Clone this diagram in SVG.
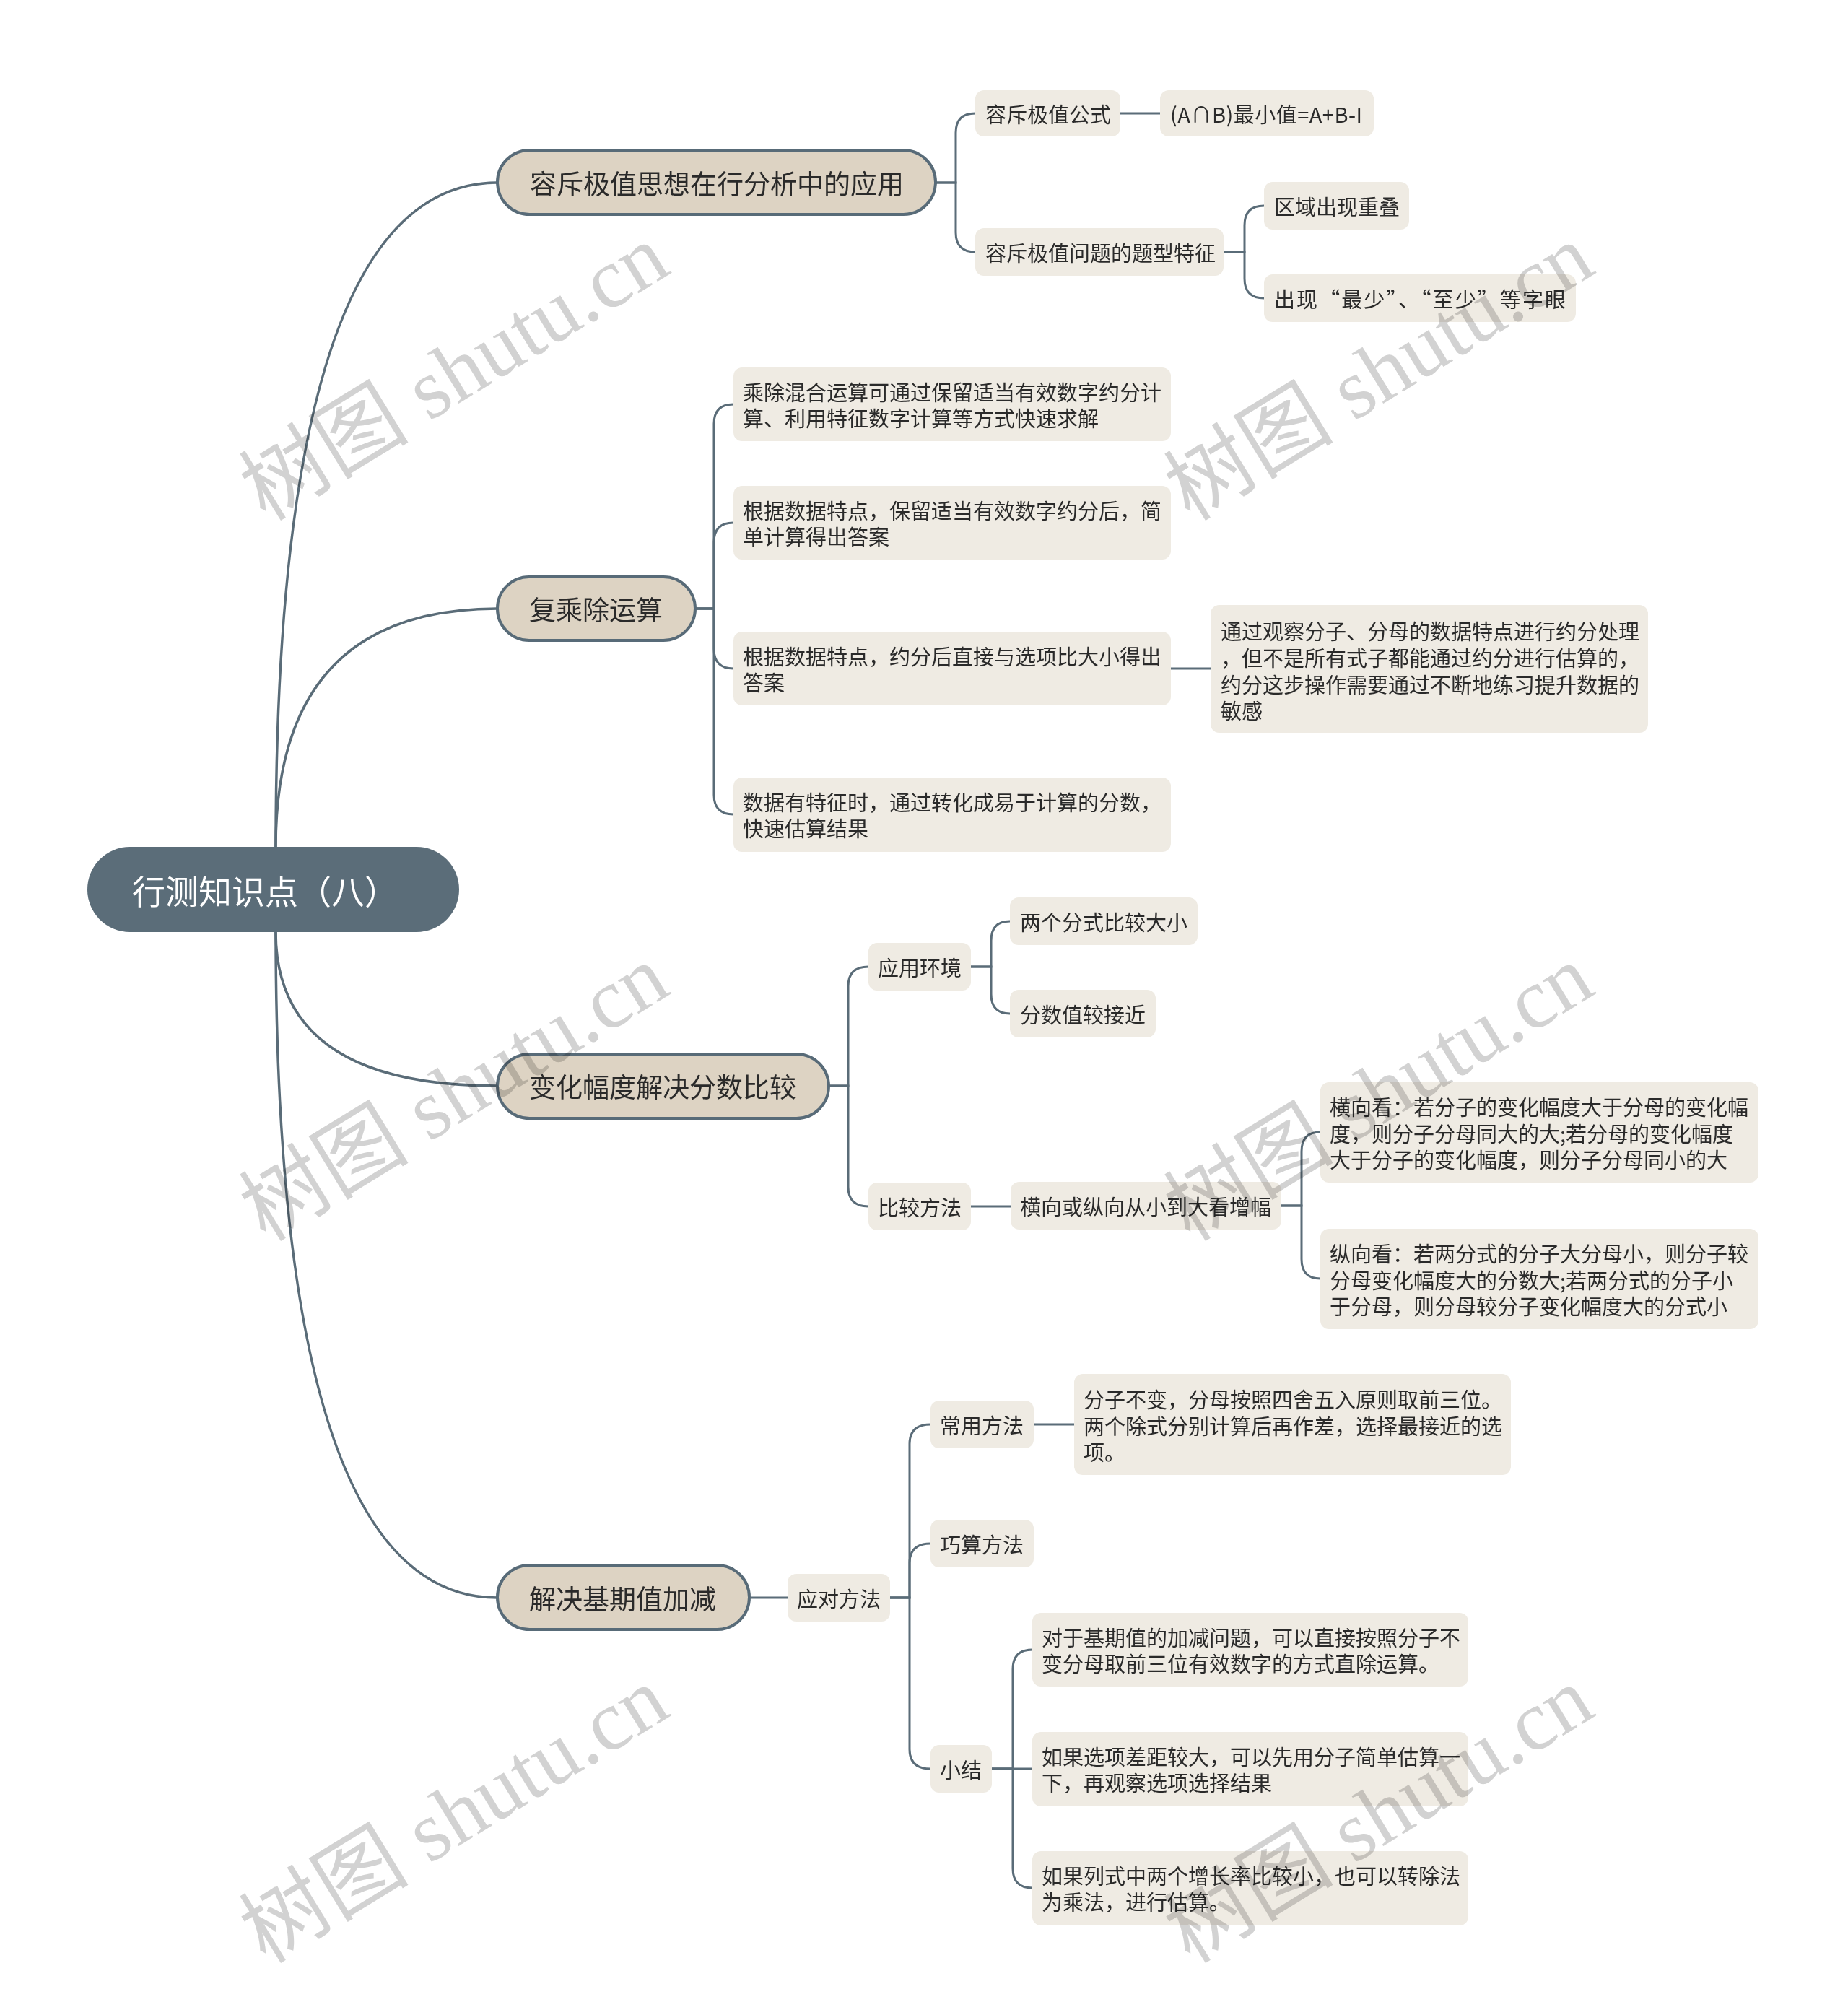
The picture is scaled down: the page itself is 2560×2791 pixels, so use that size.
<svg xmlns="http://www.w3.org/2000/svg" width="2560" height="2791" viewBox="0 0 2560 2791">
<style>
text{font-family:"Noto Sans CJK SC","Noto Sans",sans-serif;dominant-baseline:central;}
.root{fill:#5b6d79;}
.rt{fill:#ffffff;font-size:46px;}
.b1{fill:#ddd3c3;stroke:#586b78;stroke-width:4;}
.t1{fill:#2a2a2a;font-size:37px;}
.lf{fill:#efebe3;}
.t2{fill:#2a2a2a;font-size:29px;}
.c1{fill:none;stroke:#5a6c78;stroke-width:3.5;}
.c2{fill:none;stroke:#5a6c78;stroke-width:3;}
.wm{font-family:"Liberation Serif","Noto Sans CJK SC",serif;font-size:118px;fill:#d2d2d2;dominant-baseline:auto;mix-blend-mode:multiply;}
</style>
<rect width="2560" height="2791" fill="#ffffff"/>
<g id="connectors">
<path class="c1" d="M382 1173 Q382 253 689 253"/>
<path class="c1" d="M382 1173 Q382 843 689 843"/>
<path class="c1" d="M382 1291 Q382 1504 689 1504"/>
<path class="c1" d="M382 1291 Q382 2213 689 2213"/>
<path class="c2" d="M1296 253 H1324 V184 Q1324 157 1351 157"/>
<path class="c2" d="M1296 253 H1324 V322 Q1324 349 1351 349"/>
<path class="c2" d="M1552 157 H1607"/>
<path class="c2" d="M1695 349 H1724 V312 Q1724 285 1751 285"/>
<path class="c2" d="M1695 349 H1724 V386 Q1724 413 1751 413"/>
<path class="c2" d="M963 843 H989 V587 Q989 560 1016 560"/>
<path class="c2" d="M963 843 H989 V751 Q989 724 1016 724"/>
<path class="c2" d="M963 843 H989 V899 Q989 926 1016 926"/>
<path class="c2" d="M963 843 H989 V1101 Q989 1128 1016 1128"/>
<path class="c2" d="M1622 926 H1677"/>
<path class="c2" d="M1148 1504 H1175 V1366 Q1175 1339 1203 1339"/>
<path class="c2" d="M1148 1504 H1175 V1644 Q1175 1671 1203 1671"/>
<path class="c2" d="M1345 1339 H1373 V1303 Q1373 1276 1399 1276"/>
<path class="c2" d="M1345 1339 H1373 V1377 Q1373 1404 1399 1404"/>
<path class="c2" d="M1345 1671 H1400"/>
<path class="c2" d="M1775 1670 H1803 V1595 Q1803 1568 1829 1568"/>
<path class="c2" d="M1775 1670 H1803 V1744 Q1803 1771 1829 1771"/>
<path class="c2" d="M1038 2213 H1091"/>
<path class="c2" d="M1233 2213 H1260 V2000 Q1260 1973 1289 1973"/>
<path class="c2" d="M1233 2213 H1260 V2165 Q1260 2138 1289 2138"/>
<path class="c2" d="M1233 2213 H1260 V2423 Q1260 2450 1289 2450"/>
<path class="c2" d="M1432 1973 H1488"/>
<path class="c2" d="M1374 2450 H1403 V2312 Q1403 2285 1430 2285"/>
<path class="c2" d="M1374 2450 H1430"/>
<path class="c2" d="M1374 2450 H1403 V2588 Q1403 2615 1430 2615"/>
</g>
<g id="root">
<rect class="root" x="121" y="1173" width="515" height="118" rx="59"/>
<text class="rt" x="183" y="1232">行测知识点（八）</text>
</g>
<g id="b1">
<rect class="b1" x="689" y="208" width="607" height="89" rx="44.5"/>
<text class="t1" x="734" y="253">容斥极值思想在行分析中的应用</text>
</g>
<g id="b1-1">
<rect class="lf" x="1351" y="125" width="201" height="64" rx="12"/>
<text class="t2" x="1365" y="157">容斥极值公式</text>
</g>
<g id="b1-1-1">
<rect class="lf" x="1607" y="125" width="296" height="64" rx="12"/>
<text class="t2" x="1621" y="157" textLength="266" lengthAdjust="spacing">(A∩B)最小值=A+B-I</text>
</g>
<g id="b1-2">
<rect class="lf" x="1351" y="316" width="344" height="66" rx="12"/>
<text class="t2" x="1365" y="349">容斥极值问题的题型特征</text>
</g>
<g id="b1-2-1">
<rect class="lf" x="1751" y="252" width="201" height="66" rx="12"/>
<text class="t2" x="1765" y="285">区域出现重叠</text>
</g>
<g id="b1-2-2">
<rect class="lf" x="1751" y="380" width="432" height="66" rx="12"/>
<text class="t2" x="1765" y="413" textLength="404" lengthAdjust="spacing">出现“最少”、“至少”等字眼</text>
</g>
<g id="b2">
<rect class="b1" x="689" y="799" width="274" height="88" rx="44"/>
<text class="t1" x="733" y="843">复乘除运算</text>
</g>
<g id="b2-1">
<rect class="lf" x="1016" y="509" width="606" height="102" rx="12"/>
<text class="t2"><tspan x="1029" y="542">乘除混合运算可通过保留适当有效数字约分计</tspan><tspan x="1029" y="578">算、利用特征数字计算等方式快速求解</tspan></text>
</g>
<g id="b2-2">
<rect class="lf" x="1016" y="673" width="606" height="102" rx="12"/>
<text class="t2"><tspan x="1029" y="706">根据数据特点，保留适当有效数字约分后，简</tspan><tspan x="1029" y="742">单计算得出答案</tspan></text>
</g>
<g id="b2-3">
<rect class="lf" x="1016" y="875" width="606" height="102" rx="12"/>
<text class="t2"><tspan x="1029" y="908">根据数据特点，约分后直接与选项比大小得出</tspan><tspan x="1029" y="944">答案</tspan></text>
</g>
<g id="b2-3-1">
<rect class="lf" x="1677" y="838" width="606" height="177" rx="12"/>
<text class="t2"><tspan x="1691" y="873">通过观察分子、分母的数据特点进行约分处理</tspan><tspan x="1691" y="910">，但不是所有式子都能通过约分进行估算的，</tspan><tspan x="1691" y="947">约分这步操作需要通过不断地练习提升数据的</tspan><tspan x="1691" y="983">敏感</tspan></text>
</g>
<g id="b2-4">
<rect class="lf" x="1016" y="1077" width="606" height="103" rx="12"/>
<text class="t2"><tspan x="1029" y="1110">数据有特征时，通过转化成易于计算的分数，</tspan><tspan x="1029" y="1146">快速估算结果</tspan></text>
</g>
<g id="b3">
<rect class="b1" x="689" y="1460" width="459" height="89" rx="44.5"/>
<text class="t1" x="733" y="1504">变化幅度解决分数比较</text>
</g>
<g id="b3-1">
<rect class="lf" x="1203" y="1306" width="142" height="66" rx="12"/>
<text class="t2" x="1216" y="1339">应用环境</text>
</g>
<g id="b3-1-1">
<rect class="lf" x="1399" y="1243" width="260" height="66" rx="12"/>
<text class="t2" x="1413" y="1276">两个分式比较大小</text>
</g>
<g id="b3-1-2">
<rect class="lf" x="1399" y="1371" width="202" height="66" rx="12"/>
<text class="t2" x="1413" y="1404">分数值较接近</text>
</g>
<g id="b3-2">
<rect class="lf" x="1203" y="1638" width="142" height="66" rx="12"/>
<text class="t2" x="1216" y="1671">比较方法</text>
</g>
<g id="b3-2-1">
<rect class="lf" x="1400" y="1637" width="375" height="66" rx="12"/>
<text class="t2" x="1413" y="1670">横向或纵向从小到大看增幅</text>
</g>
<g id="b3-2-1-1">
<rect class="lf" x="1829" y="1499" width="607" height="139" rx="12"/>
<text class="t2"><tspan x="1842" y="1532">横向看：若分子的变化幅度大于分母的变化幅</tspan><tspan x="1842" y="1569">度，则分子分母同大的大;若分母的变化幅度</tspan><tspan x="1842" y="1605">大于分子的变化幅度，则分子分母同小的大</tspan></text>
</g>
<g id="b3-2-1-2">
<rect class="lf" x="1829" y="1702" width="607" height="139" rx="12"/>
<text class="t2"><tspan x="1842" y="1735">纵向看：若两分式的分子大分母小，则分子较</tspan><tspan x="1842" y="1772">分母变化幅度大的分数大;若两分式的分子小</tspan><tspan x="1842" y="1808">于分母，则分母较分子变化幅度大的分式小</tspan></text>
</g>
<g id="b4">
<rect class="b1" x="689" y="2168" width="349" height="89" rx="44.5"/>
<text class="t1" x="733" y="2213">解决基期值加减</text>
</g>
<g id="b4-1">
<rect class="lf" x="1091" y="2180" width="142" height="66" rx="12"/>
<text class="t2" x="1104" y="2213">应对方法</text>
</g>
<g id="b4-1-1">
<rect class="lf" x="1289" y="1940" width="143" height="66" rx="12"/>
<text class="t2" x="1302" y="1973">常用方法</text>
</g>
<g id="b4-1-1-1">
<rect class="lf" x="1488" y="1903" width="605" height="140" rx="12"/>
<text class="t2"><tspan x="1501" y="1937">分子不变，分母按照四舍五入原则取前三位。</tspan><tspan x="1501" y="1974">两个除式分别计算后再作差，选择最接近的选</tspan><tspan x="1501" y="2010">项。</tspan></text>
</g>
<g id="b4-1-2">
<rect class="lf" x="1289" y="2105" width="143" height="66" rx="12"/>
<text class="t2" x="1302" y="2138">巧算方法</text>
</g>
<g id="b4-1-3">
<rect class="lf" x="1289" y="2417" width="85" height="66" rx="12"/>
<text class="t2" x="1302" y="2450">小结</text>
</g>
<g id="b4-1-3-1">
<rect class="lf" x="1430" y="2234" width="604" height="102" rx="12"/>
<text class="t2"><tspan x="1443" y="2267">对于基期值的加减问题，可以直接按照分子不</tspan><tspan x="1443" y="2303">变分母取前三位有效数字的方式直除运算。</tspan></text>
</g>
<g id="b4-1-3-2">
<rect class="lf" x="1430" y="2399" width="604" height="103" rx="12"/>
<text class="t2"><tspan x="1443" y="2432">如果选项差距较大，可以先用分子简单估算一</tspan><tspan x="1443" y="2468">下，再观察选项选择结果</tspan></text>
</g>
<g id="b4-1-3-3">
<rect class="lf" x="1430" y="2564" width="604" height="103" rx="12"/>
<text class="t2"><tspan x="1443" y="2597">如果列式中两个增长率比较小，也可以转除法</tspan><tspan x="1443" y="2633">为乘法，进行估算。</tspan></text>
</g>
<g id="watermarks">
<text class="wm" text-anchor="middle" transform="translate(650 550) rotate(-31.5)">树图 shutu.cn</text>
<text class="wm" text-anchor="middle" transform="translate(1931 550) rotate(-31.5)">树图 shutu.cn</text>
<text class="wm" text-anchor="middle" transform="translate(650 1548) rotate(-31.5)">树图 shutu.cn</text>
<text class="wm" text-anchor="middle" transform="translate(1931 1548) rotate(-31.5)">树图 shutu.cn</text>
<text class="wm" text-anchor="middle" transform="translate(650 2548) rotate(-31.5)">树图 shutu.cn</text>
<text class="wm" text-anchor="middle" transform="translate(1931 2548) rotate(-31.5)">树图 shutu.cn</text>
</g>
</svg>
